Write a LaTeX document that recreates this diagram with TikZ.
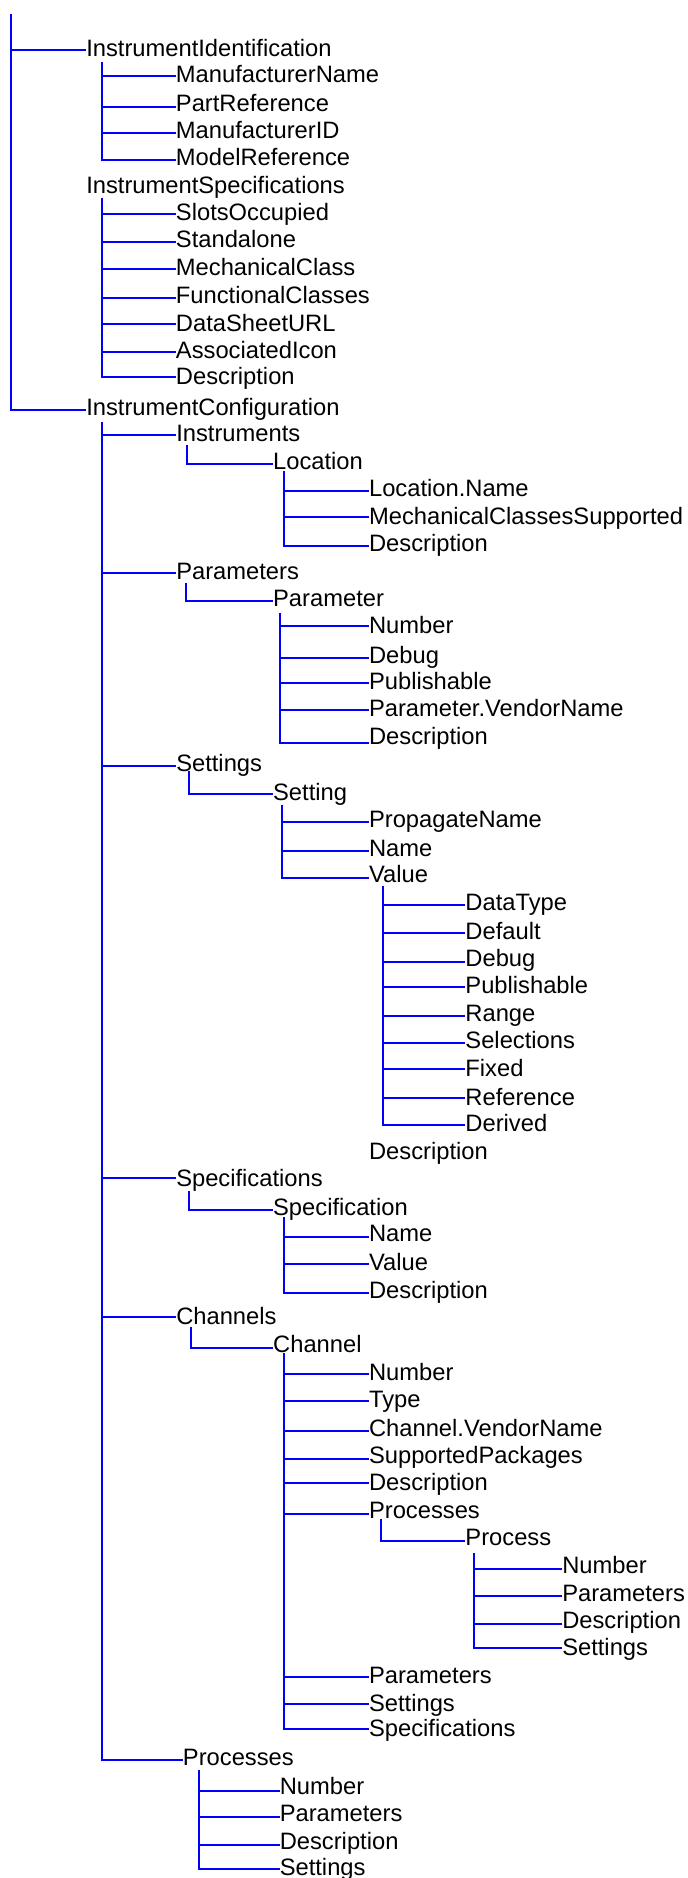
\documentclass[tikz,border=0pt]{standalone}
\usepackage{fontspec}
\setmainfont{Liberation Sans}
\tikzset{
  lbl/.style={anchor=base west, inner sep=0pt, font=\fontsize{17.8}{20}\selectfont, text=black},
  conn/.style={draw=blue, line width=1.5pt},
}
\newcommand\tbranch[3]{\draw[conn] (#1) |- (#3.west |- 0,#2);}
\begin{document}
\begin{tikzpicture}[x=0.75pt,y=-0.75pt]
\useasboundingbox (0,0) rectangle (687,1878);
% ---------- root level ----------
\coordinate (root) at (11,14);
\node[lbl] (II) at (86,56) {InstrumentIdentification};
\node[lbl] (IS) at (86,193.3) {InstrumentSpecifications};
\node[lbl] (IC) at (86,415) {InstrumentConfiguration};
\tbranch{root}{50}{II}
\tbranch{root}{410}{IC}
% ---------- InstrumentIdentification ----------
\coordinate (IIv) at (102,62);
\node[lbl] (II1) at (175.7,82.7) {ManufacturerName};
\node[lbl] (II2) at (175.7,111) {PartReference};
\node[lbl] (II3) at (175.7,138.3) {ManufacturerID};
\node[lbl] (II4) at (175.7,165.7) {ModelReference};
\tbranch{IIv}{76}{II1}
\tbranch{IIv}{107}{II2}
\tbranch{IIv}{133}{II3}
\tbranch{IIv}{160}{II4}
% ---------- InstrumentSpecifications ----------
\coordinate (ISv) at (102,198);
\node[lbl] (IS1) at (175.7,220) {SlotsOccupied};
\node[lbl] (IS2) at (175.7,247.7) {Standalone};
\node[lbl] (IS3) at (175.7,275.7) {MechanicalClass};
\node[lbl] (IS4) at (175.7,303.3) {FunctionalClasses};
\node[lbl] (IS5) at (175.7,331) {DataSheetURL};
\node[lbl] (IS6) at (175.7,358.3) {AssociatedIcon};
\node[lbl] (IS7) at (175.7,384.5) {Description};
\tbranch{ISv}{214}{IS1}
\tbranch{ISv}{242}{IS2}
\tbranch{ISv}{269}{IS3}
\tbranch{ISv}{298}{IS4}
\tbranch{ISv}{324}{IS5}
\tbranch{ISv}{352}{IS6}
\tbranch{ISv}{377}{IS7}
% ---------- InstrumentConfiguration ----------
\coordinate (ICv) at (102,422);
\node[lbl] (Ins) at (176,441) {Instruments};
\node[lbl] (Par) at (176,579.3) {Parameters};
\node[lbl] (Set) at (176,771.7) {Settings};
\node[lbl] (Spe) at (176,1186) {Specifications};
\node[lbl] (Cha) at (176,1324) {Channels};
\node[lbl] (Pro) at (182.7,1765.7) {Processes};
\tbranch{ICv}{435}{Ins}
\tbranch{ICv}{573}{Par}
\tbranch{ICv}{766}{Set}
\tbranch{ICv}{1178}{Spe}
\tbranch{ICv}{1317}{Cha}
\tbranch{ICv}{1760}{Pro}
% Instruments -> Location
\coordinate (Insv) at (187,445);
\node[lbl] (Loc) at (272.9,469.3) {Location};
\tbranch{Insv}{464}{Loc}
\coordinate (Locv) at (284,471);
\node[lbl] (Loc1) at (368.8,496.7) {Location.Name};
\node[lbl] (Loc2) at (368.8,524) {MechanicalClassesSupported};
\node[lbl] (Loc3) at (368.8,551.7) {Description};
\tbranch{Locv}{491}{Loc1}
\tbranch{Locv}{517}{Loc2}
\tbranch{Locv}{546}{Loc3}
% Parameters -> Parameter
\coordinate (Parv) at (186,583);
\node[lbl] (Prm) at (272.9,606.7) {Parameter};
\tbranch{Parv}{601}{Prm}
\coordinate (Prmv) at (280,613);
\node[lbl] (Prm1) at (368.8,633.5) {Number};
\node[lbl] (Prm2) at (368.8,663.3) {Debug};
\node[lbl] (Prm3) at (368.8,689.3) {Publishable};
\node[lbl] (Prm4) at (368.8,716.7) {Parameter.VendorName};
\node[lbl] (Prm5) at (368.8,744.5) {Description};
\tbranch{Prmv}{626}{Prm1}
\tbranch{Prmv}{658}{Prm2}
\tbranch{Prmv}{683}{Prm3}
\tbranch{Prmv}{710}{Prm4}
\tbranch{Prmv}{743}{Prm5}
% Settings -> Setting
\coordinate (Setv) at (189,771);
\node[lbl] (Stg) at (272.9,800) {Setting};
\tbranch{Setv}{794}{Stg}
\coordinate (Stgv) at (282,805);
\node[lbl] (Stg1) at (368.8,827.7) {PropagateName};
\node[lbl] (Stg2) at (368.8,856) {Name};
\node[lbl] (Val) at (368.8,882.7) {Value};
\tbranch{Stgv}{822}{Stg1}
\tbranch{Stgv}{851}{Stg2}
\tbranch{Stgv}{878}{Val}
\coordinate (Valv) at (383,886);
\node[lbl] (Val1) at (465.2,910.7) {DataType};
\node[lbl] (Val2) at (465.2,939.3) {Default};
\node[lbl] (Val3) at (465.2,966.7) {Debug};
\node[lbl] (Val4) at (465.2,993.3) {Publishable};
\node[lbl] (Val5) at (465.2,1021.7) {Range};
\node[lbl] (Val6) at (465.2,1048.3) {Selections};
\node[lbl] (Val7) at (465.2,1076) {Fixed};
\node[lbl] (Val8) at (465.2,1105) {Reference};
\node[lbl] (Val9) at (465.2,1131.5) {Derived};
\tbranch{Valv}{905}{Val1}
\tbranch{Valv}{933}{Val2}
\tbranch{Valv}{962}{Val3}
\tbranch{Valv}{987}{Val4}
\tbranch{Valv}{1016}{Val5}
\tbranch{Valv}{1043}{Val6}
\tbranch{Valv}{1069}{Val7}
\tbranch{Valv}{1098}{Val8}
\tbranch{Valv}{1125}{Val9}
\node[lbl] (StgD) at (368.8,1159) {Description};
% Specifications -> Specification
\coordinate (Spev) at (189,1191);
\node[lbl] (Spc) at (272.9,1215) {Specification};
\tbranch{Spev}{1210}{Spc}
\coordinate (Spcv) at (284,1217);
\node[lbl] (Spc1) at (368.8,1241.7) {Name};
\node[lbl] (Spc2) at (368.8,1270) {Value};
\node[lbl] (Spc3) at (368.8,1298.3) {Description};
\tbranch{Spcv}{1237}{Spc1}
\tbranch{Spcv}{1264}{Spc2}
\tbranch{Spcv}{1293}{Spc3}
% Channels -> Channel
\coordinate (Chav) at (191,1327);
\node[lbl] (Chn) at (272.9,1352.7) {Channel};
\tbranch{Chav}{1348}{Chn}
\coordinate (Chnv) at (284,1353);
\node[lbl] (Chn1) at (368.8,1380.7) {Number};
\node[lbl] (Chn2) at (368.8,1407.7) {Type};
\node[lbl] (Chn3) at (368.8,1436) {Channel.VendorName};
\node[lbl] (Chn4) at (368.8,1463) {SupportedPackages};
\node[lbl] (Chn5) at (368.8,1490) {Description};
\node[lbl] (Chn6) at (368.8,1518) {Processes};
\node[lbl] (Chn7) at (368.8,1683.3) {Parameters};
\node[lbl] (Chn8) at (368.8,1711) {Settings};
\node[lbl] (Chn9) at (368.8,1736.7) {Specifications};
\tbranch{Chnv}{1374}{Chn1}
\tbranch{Chnv}{1401}{Chn2}
\tbranch{Chnv}{1431}{Chn3}
\tbranch{Chnv}{1459}{Chn4}
\tbranch{Chnv}{1483}{Chn5}
\tbranch{Chnv}{1514}{Chn6}
\tbranch{Chnv}{1677}{Chn7}
\tbranch{Chnv}{1704}{Chn8}
\tbranch{Chnv}{1729}{Chn9}
% Channel Processes -> Process
\coordinate (Chn6v) at (381,1519);
\node[lbl] (Prc) at (465.2,1545) {Process};
\tbranch{Chn6v}{1541}{Prc}
\coordinate (Prcv) at (474,1553);
\node[lbl] (Prc1) at (562,1573.3) {Number};
\node[lbl] (Prc2) at (562,1601.7) {Parameters};
\node[lbl] (Prc3) at (562,1628.3) {Description};
\node[lbl] (Prc4) at (562,1655) {Settings};
\tbranch{Prcv}{1569}{Prc1}
\tbranch{Prcv}{1596}{Prc2}
\tbranch{Prcv}{1624}{Prc3}
\tbranch{Prcv}{1648}{Prc4}
% Configuration Processes
\coordinate (Prov) at (199,1770);
\node[lbl] (Pro1) at (279.5,1794) {Number};
\node[lbl] (Pro2) at (279.5,1821.7) {Parameters};
\node[lbl] (Pro3) at (279.5,1849.3) {Description};
\node[lbl] (Pro4) at (279.5,1875) {Settings};
\tbranch{Prov}{1791}{Pro1}
\tbranch{Prov}{1817}{Pro2}
\tbranch{Prov}{1845}{Pro3}
\tbranch{Prov}{1869}{Pro4}
\end{tikzpicture}
\end{document}
